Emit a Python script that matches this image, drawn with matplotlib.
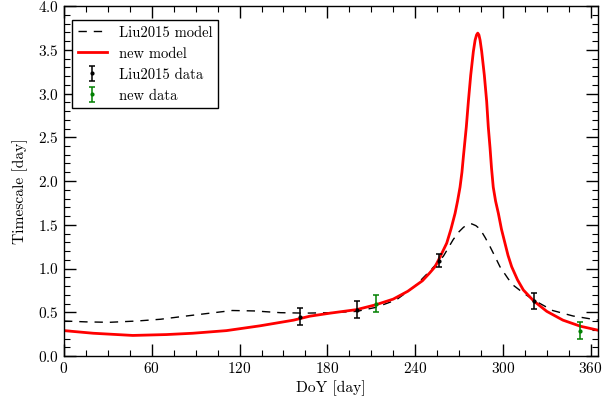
import matplotlib
matplotlib.use("Agg")
import matplotlib.pyplot as plt
from matplotlib.ticker import MultipleLocator

plt.rcParams['font.family'] = 'serif'
plt.rcParams['font.serif'] = ['cmr10', 'DejaVu Serif']
plt.rcParams['mathtext.fontset'] = 'cm'
plt.rcParams['axes.formatter.use_mathtext'] = True
plt.rcParams['axes.unicode_minus'] = False

# Liu2015 model (dashed)
liu_model_day = [0, 15, 31, 50, 66, 85, 100, 115, 130, 148, 165, 182, 200, 213,
                 227, 240, 250, 255, 259.3, 266, 270, 273, 275.5, 278.7, 281.5,
                 284.4, 288, 291.2, 294.5, 298, 303.7, 307, 314, 321, 334, 348, 365]
liu_model_val = [0.40, 0.39, 0.385, 0.40, 0.42, 0.46, 0.49, 0.52, 0.515, 0.495,
                 0.49, 0.495, 0.51, 0.555, 0.64, 0.80, 0.97, 1.06, 1.14, 1.33,
                 1.42, 1.47, 1.50, 1.51, 1.49, 1.45, 1.35, 1.25, 1.14, 1.02,
                 0.88, 0.81, 0.72, 0.64, 0.52, 0.457, 0.41]

# new model (red)
new_model_day = [0, 20, 47, 70, 88, 111, 134, 157, 168, 182, 200, 213, 225, 235,
                 245, 250, 253.6, 257, 261.6, 264.5, 267.3, 269, 270.7, 272, 273,
                 274, 275, 276.4, 278, 279.8, 281, 282, 282.8, 283.6, 284.4, 285.5,
                 287.3, 288.9, 290, 291.2, 292.2, 293.4, 295, 296.9, 299, 301.4,
                 303.5, 306, 310, 314, 321, 330, 341, 353, 365]
new_model_val = [0.29, 0.26, 0.235, 0.245, 0.26, 0.29, 0.345, 0.41, 0.455, 0.49,
                 0.53, 0.585, 0.65, 0.74, 0.86, 0.95, 1.02, 1.13, 1.29, 1.45,
                 1.63, 1.77, 1.93, 2.10, 2.28, 2.45, 2.62, 2.91, 3.21, 3.48,
                 3.61, 3.67, 3.69, 3.67, 3.61, 3.48, 3.21, 2.91, 2.62, 2.38,
                 2.15, 1.93, 1.77, 1.63, 1.45, 1.29, 1.15, 1.02, 0.87, 0.754,
                 0.63, 0.51, 0.41, 0.34, 0.295]

# Liu2015 data (black)
liu_data_day = [161, 200, 256, 321]
liu_data_val = [0.45, 0.53, 1.09, 0.63]
liu_data_err = [0.095, 0.10, 0.075, 0.095]

# new data (green)
new_data_day = [213, 353]
new_data_val = [0.60, 0.29]
new_data_err = [0.10, 0.095]

fig = plt.figure(figsize=(6.02, 4.05), dpi=100)
ax = fig.add_axes([64/602, 49/405, 534/602, 350/405])

ax.plot(liu_model_day, liu_model_val, color='black', lw=1.0,
        dashes=(6, 5), label='Liu2015 model')
ax.plot(new_model_day, new_model_val, color='red', lw=2.0, label='new model')
ax.errorbar(liu_data_day, liu_data_val, yerr=liu_data_err, fmt='.', color='black',
            ms=4, capsize=2, elinewidth=1.1, capthick=1.1, label='Liu2015 data')
ax.errorbar(new_data_day, new_data_val, yerr=new_data_err, fmt='.', color='green',
            ms=4, capsize=2, elinewidth=1.1, capthick=1.1, label='new data')

ax.set_xlim(0, 365)
ax.set_ylim(0, 4.0)
ax.xaxis.set_major_locator(MultipleLocator(60))
ax.xaxis.set_minor_locator(MultipleLocator(15))
ax.yaxis.set_major_locator(MultipleLocator(0.5))
ax.yaxis.set_minor_locator(MultipleLocator(0.1))
ax.tick_params(which='both', direction='in', top=True, right=True, labelsize=11)
ax.tick_params(which='major', length=8.5, width=1.0)
ax.tick_params(which='minor', length=4, width=0.8)
for s in ax.spines.values():
    s.set_linewidth(1.0)

ax.set_xlabel('DoY [day]', fontsize=11.2, labelpad=3)
ax.set_ylabel('Timescale [day]', fontsize=11.2)
ax.yaxis.set_label_coords(-0.068, 0.47)

leg = ax.legend(loc='upper left', fontsize=10.5, fancybox=False, edgecolor='black',
                framealpha=1.0, borderaxespad=0.0,
                bbox_to_anchor=(8/534, 1 - 14/350))
leg.get_frame().set_linewidth(1.0)

fig.savefig('out.png', dpi=100)
